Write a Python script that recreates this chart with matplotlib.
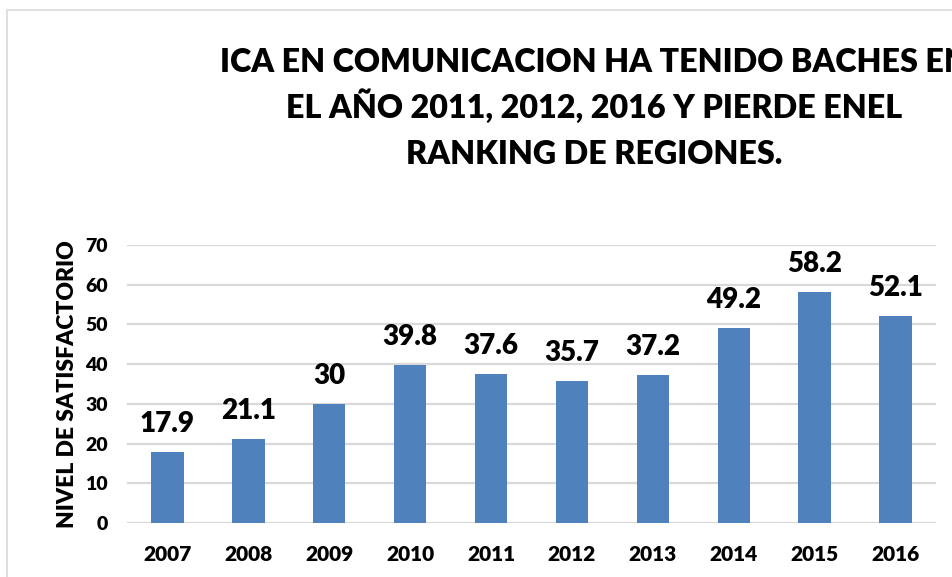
import numpy as np
import matplotlib.pyplot as plt
from matplotlib.patches import Rectangle

# DATA
years = ["2007", "2008", "2009", "2010", "2011", "2012", "2013", "2014", "2015", "2016"]
valores = [17.9, 21.1, 30, 39.8, 37.6, 35.7, 37.2, 49.2, 58.2, 52.1]
etiquetas = ["17.9", "21.1", "30", "39.8", "37.6", "35.7", "37.2", "49.2", "58.2", "52.1"]
titulo = ["ICA EN COMUNICACION HA TENIDO BACHES EN",
          "EL AÑO 2011, 2012, 2016 Y PIERDE ENEL",
          "RANKING DE REGIONES."]

plt.rcParams['font.family'] = ['Lato', 'DejaVu Sans']
plt.rcParams['font.weight'] = 'bold'
peso = 'heavy'

W, H = 953, 577
fig = plt.figure(figsize=(W / 100, H / 100), dpi=100)
ax = fig.add_axes([127 / W, 1 - 523 / H, (936 - 127) / W, (523 - 245) / H])

x = np.arange(len(years))
ax.bar(x, valores, width=0.4, color="#4F81BD", zorder=3)
for xi, v, t in zip(x, valores, etiquetas):
    ax.text(xi, v + 5, t, ha="center", va="baseline", fontsize=20, fontweight=peso)

ax.set_xlim(-0.5, len(years) - 0.5)
ax.set_ylim(0, 70)
ax.set_yticks(range(0, 71, 10))
ax.set_xticks(x)
ax.set_xticklabels(years)
ax.tick_params(axis="x", length=0, labelsize=15, pad=16)
ax.tick_params(axis="y", length=0, labelsize=14, pad=14)
for lab in ax.get_xticklabels() + ax.get_yticklabels():
    lab.set_fontweight(peso)
ax.grid(axis="y", color="#D9D9D9", linewidth=1.6, zorder=0)
for s in ax.spines.values():
    s.set_visible(False)
ax.set_ylabel("NIVEL DE SATISFACTORIO", fontsize=16.5, fontweight=peso, labelpad=5)

for linea, yb in zip(titulo, [72, 118, 164]):
    fig.text(594 / W, 1 - yb / H, linea, ha="center", va="baseline", fontsize=23.2,
             fontweight=peso)

# chart border
fig.patches.append(Rectangle((7 / W, -0.1), 2, 1 - 10 / H + 0.1, transform=fig.transFigure,
                             fill=False, edgecolor="#D9D9D9", linewidth=1.2))

fig.savefig("out.png", dpi=100)
